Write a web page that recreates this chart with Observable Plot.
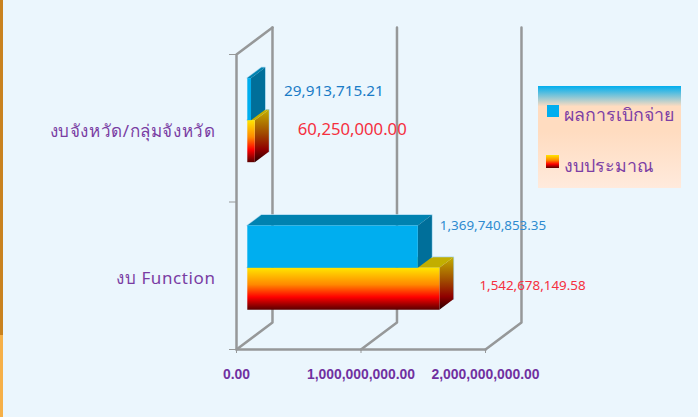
<!DOCTYPE html>
<html lang="th">
<head>
<meta charset="utf-8">
<script src="https://cdn.jsdelivr.net/npm/d3@7"></script>
<script src="https://cdn.jsdelivr.net/npm/@observablehq/plot@0.6"></script>
<style>
html,body{margin:0;padding:0;background:#ebf6fd;width:698px;height:417px;overflow:hidden;position:relative;}
#chart{position:absolute;left:0;top:0;}
#strip{position:absolute;left:0;top:0;width:3px;height:417px;background:linear-gradient(#c9821f 0,#c9821f 335px,#f6b048 335px,#f6b048 100%);}
#legend{position:absolute;left:538px;top:86px;width:143px;height:102px;background:linear-gradient(#00aeef 0,#ffdcc0 20%,#ffdcc0 45%,#ffeadc 100%);font-family:"Noto Sans","DejaVu Sans",sans-serif;font-size:17.8px;color:#7d3fa5;}
.item{position:absolute;left:26px;line-height:24px;white-space:nowrap;}
.sw{position:absolute;}
.cat text{letter-spacing:.6px;}
</style>
</head>
<body>
<div id="chart"></div>
<div id="strip"></div>
<div id="legend">
  <div class="sw" style="left:9px;top:19px;width:12px;height:12px;background:#00aeef"></div>
  <div class="item" id="leg0" style="top:16px"></div>
  <div class="sw" style="left:8px;top:69px;width:13px;height:13px;background:linear-gradient(#ffe600,#ff8a00 40%,#ff0000 70%,#5a0000)"></div>
  <div class="item" id="leg1" style="top:67px"></div>
</div>
<script>
const categories = ["งบ Function", "งบจังหวัด/กลุ่มจังหวัด"];
const seriesNames = ["ผลการเบิกจ่าย", "งบประมาณ"];
const disbursed = [1369740853.35, 29913715.21];
const budget = [1542678149.58, 60250000.00];
const xTicks = [0, 1000000000, 2000000000];
const rowTicks = [0, 1, 2];

document.getElementById("leg0").textContent = seriesNames[0];
document.getElementById("leg1").textContent = seriesNames[1];

// Oblique 3D projection, in data units of the two scales
const depthX = 289e6, depthY = 0.183;
const P = (v, y, z) => ({x: v + z * depthX, y: y + z * depthY});
const zFront = 0.3, zBack = 0.69, barH = 0.285;

const grey = "#969899", purple = "#7a3da3", tickPurple = "#7030a0";
const thaiFont = '"Noto Sans","DejaVu Sans",sans-serif';
const fmt = d3.format(",.2f");
const face = (pts, fill) => Plot.line(pts, {x: "x", y: "y", fill, stroke: "none"});

function bar(v, yBottom, look) {
  const yTop = yBottom + barH;
  return [
    Plot.line([P(0,yTop,zFront),P(0,yTop,zBack),P(v,yTop,zBack),P(v,yBottom,zBack)], {x:"x", y:"y", stroke:"#a9d6ee", strokeWidth:1.5}),
    face([P(0,yTop,zFront),P(v,yTop,zFront),P(v,yTop,zBack),P(0,yTop,zBack)], look.top),
    face([P(v,yBottom,zFront),P(v,yTop,zFront),P(v,yTop,zBack),P(v,yBottom,zBack)], look.side),
    face([P(0,yBottom,zFront),P(v,yBottom,zFront),P(v,yTop,zFront),P(0,yTop,zFront)], look.front)
  ];
}
const blue = {top: "#0082b0", side: "#006f9a", front: "#00aeef"};
const red = {top: "#c2ae00", side: "url(#redSide)", front: "url(#redFront)"};

const defs = () => {
  const d = d3.create("svg:defs");
  const grad = (id, stops) => {
    const g = d.append("linearGradient").attr("id", id).attr("x1",0).attr("x2",0).attr("y1",0).attr("y2",1);
    stops.forEach(([o,c]) => g.append("stop").attr("offset",o).attr("stop-color",c));
  };
  grad("redFront", [[0,"#ffe600"],[0.4,"#ff8a00"],[0.7,"#ff0000"],[1,"#5a0000"]]);
  grad("redSide", [[0,"#c2ae00"],[0.45,"#a04a00"],[0.75,"#900000"],[1,"#2a0000"]]);
  return d.node();
};

const backLines = xTicks.flatMap(v => [
  Plot.line([P(v,0,0),P(v,0,1),P(v,2,1)], {x:"x", y:"y", stroke:grey, strokeWidth:2.5})
]);

const lab = (v, yBottom, look) => Plot.text([P(v, yBottom + barH, zBack)], {
  x:"x", y:"y", text:()=>fmt(v), textAnchor:"start", ...look, fontFamily:thaiFont
});

const rowBase = i => i + 0.5 - barH;   // blue bar sits above, red bar below row centre

const plot = Plot.plot({
  width: 698, height: 417,
  marginLeft: 236, marginRight: 213, marginTop: 54, marginBottom: 68,
  x: {domain: [0, 2e9]},
  y: {domain: [0, 2]},
  style: {background: "transparent"},
  marks: [
    defs,
    ...backLines,
    Plot.line([P(0,2,1),P(0,2,0),P(0,0,0),P(2e9,0,0)], {x:"x", y:"y", stroke:grey, strokeWidth:2.5}),
    Plot.axisX({ticks:xTicks, tickSize:4, tickFormat:()=>"", label:null, stroke:grey}),
    Plot.axisY({ticks:rowTicks, tickSize:7, tickFormat:()=>"", label:null, stroke:grey}),
    Plot.text(xTicks, {x:d=>d, y:()=>0, text:d=>fmt(d), dy:25, fontSize:13.9, fontWeight:"bold", fill:tickPurple, fontFamily:'"Liberation Sans",Arial,sans-serif'}),
    ...categories.flatMap((c,i) => [
      ...bar(budget[i], rowBase(i), red),
      ...bar(disbursed[i], rowBase(i) + barH, blue)
    ]),
    Plot.text(categories, {x:()=>0, y:(d,i)=>i+0.5, text:d=>d, textAnchor:"end", dx:-21, dy:3, fontSize:17, fill:purple, fontFamily:thaiFont, className:"cat"}),
    lab(disbursed[0], rowBase(0)+barH, {fontSize:13.4, fill:"#2e8bd0", dx:8, dy:11}),
    lab(budget[0], rowBase(0), {fontSize:13.4, fill:"#f53040", dx:26, dy:29}),
    lab(disbursed[1], rowBase(1)+barH, {fontSize:15.3, fill:"#1a7cc7", dx:19, dy:24}),
    lab(budget[1], rowBase(1), {fontSize:16.7, fill:"#f5303f", dx:29, dy:20})
  ]
});
document.getElementById("chart").appendChild(plot);
</script>
</body>
</html>
